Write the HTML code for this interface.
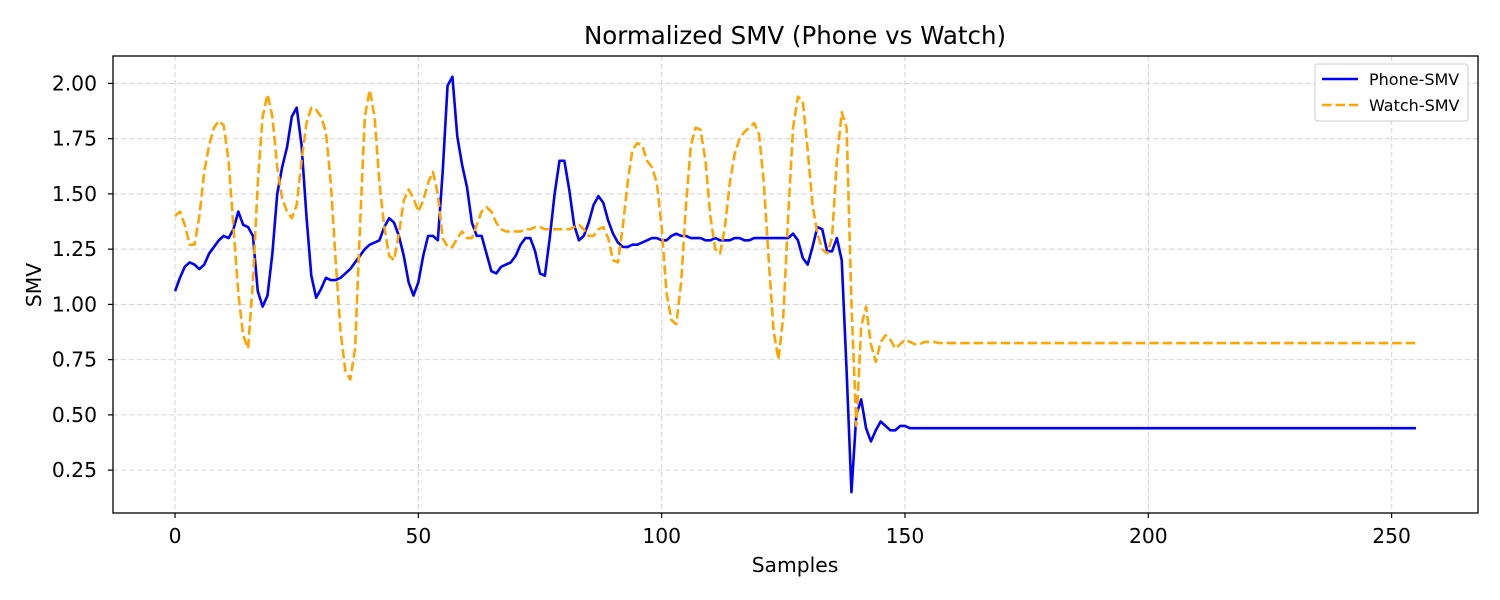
<!DOCTYPE html>
<html><head><meta charset="utf-8"><style>
html,body{margin:0;padding:0;background:#fff;}
svg{display:block;font-family:"DejaVu Sans","Liberation Sans",sans-serif;}
</style></head><body>
<svg id="chart" width="1500" height="600" viewBox="0 0 1500 600">
<rect x="0" y="0" width="1500" height="600" fill="#fff"/>
<text x="795" y="44" text-anchor="middle" font-size="24.5" fill="#000">Normalized SMV (Phone vs Watch)</text>
<g id="grid"></g>
<g id="lines"></g>
<rect x="113" y="56" width="1365" height="457" fill="none" stroke="#000" stroke-width="1.3"/>
<g id="xt"></g><g id="yt"></g>
<text x="795" y="572" text-anchor="middle" font-size="20.3">Samples</text>
<text transform="translate(41,285) rotate(-90)" text-anchor="middle" font-size="20.3">SMV</text>
<g>
<rect x="1315" y="64" width="153" height="57" rx="3" fill="#fff" stroke="#ccc" stroke-width="1"/>
<g>
<line x1="1322" y1="79" x2="1358" y2="79" stroke="#0000ff" stroke-width="2.6"/>
<text x="1369" y="85" font-size="16">Phone-SMV</text></g>
<g>
<line x1="1322" y1="105" x2="1358" y2="105" stroke="#ffa500" stroke-width="2.6" stroke-dasharray="9.5,4"/>
<text x="1369" y="111" font-size="16">Watch-SMV</text></g>
</g>
</svg>
<script>
const xTicks=[0,50,100,150,200,250];
const yTicks=[0.25,0.50,0.75,1.00,1.25,1.50,1.75,2.00];
const phone=[
1.06,1.12,1.17,1.19,1.18,1.16,1.18,1.23,1.26,1.29,
1.31,1.30,1.34,1.42,1.36,1.35,1.31,1.06,0.99,1.04,
1.23,1.50,1.62,1.71,1.85,1.89,1.72,1.40,1.13,1.03,
1.07,1.12,1.11,1.11,1.12,1.14,1.16,1.19,1.22,1.25,
1.27,1.28,1.29,1.35,1.39,1.37,1.31,1.22,1.10,1.04,
1.10,1.22,1.31,1.31,1.29,1.60,1.99,2.03,1.76,1.63,
1.53,1.37,1.31,1.31,1.23,1.15,1.14,1.17,1.18,1.19,
1.22,1.27,1.30,1.30,1.24,1.14,1.13,1.30,1.50,1.65,
1.65,1.52,1.36,1.29,1.31,1.37,1.45,1.49,1.46,1.38,
1.32,1.28,1.26,1.26,1.27,1.27,1.28,1.29,1.30,1.30,
1.29,1.29,1.31,1.32,1.31,1.31,1.30,1.30,1.30,1.29,
1.29,1.30,1.29,1.29,1.29,1.30,1.30,1.29,1.29,1.30,
1.30,1.30,1.30,1.30,1.30,1.30,1.30,1.32,1.29,1.21,
1.18,1.26,1.35,1.34,1.24,1.24,1.30,1.20,0.70,0.15,
0.50,0.57,0.44,0.38,0.43,0.47,0.45,0.43,0.43,0.45,
0.45,0.44,0.44,0.44,0.44,0.44,0.44,0.44,0.44,0.44,
0.44,0.44,0.44,0.44,0.44,0.44,0.44,0.44,0.44,0.44,
0.44,0.44,0.44,0.44,0.44,0.44,0.44,0.44,0.44,0.44,
0.44,0.44,0.44,0.44,0.44,0.44,0.44,0.44,0.44,0.44,
0.44,0.44,0.44,0.44,0.44,0.44,0.44,0.44,0.44,0.44,
0.44,0.44,0.44,0.44,0.44,0.44,0.44,0.44,0.44,0.44,
0.44,0.44,0.44,0.44,0.44,0.44,0.44,0.44,0.44,0.44,
0.44,0.44,0.44,0.44,0.44,0.44,0.44,0.44,0.44,0.44,
0.44,0.44,0.44,0.44,0.44,0.44,0.44,0.44,0.44,0.44,
0.44,0.44,0.44,0.44,0.44,0.44,0.44,0.44,0.44,0.44,
0.44,0.44,0.44,0.44,0.44,0.44];
const watch=[
1.40,1.42,1.36,1.27,1.27,1.40,1.60,1.72,1.80,1.83,
1.81,1.65,1.35,1.05,0.86,0.80,1.10,1.55,1.85,1.95,
1.85,1.62,1.48,1.42,1.39,1.45,1.65,1.82,1.89,1.88,
1.85,1.78,1.55,1.20,0.88,0.70,0.66,0.80,1.35,1.85,
1.97,1.85,1.55,1.35,1.22,1.20,1.32,1.47,1.52,1.48,
1.42,1.47,1.55,1.60,1.50,1.30,1.26,1.26,1.30,1.33,
1.30,1.30,1.36,1.42,1.44,1.42,1.37,1.34,1.33,1.33,
1.33,1.33,1.34,1.34,1.35,1.35,1.34,1.34,1.34,1.34,
1.34,1.34,1.35,1.36,1.34,1.31,1.31,1.34,1.35,1.30,
1.20,1.19,1.35,1.55,1.70,1.73,1.72,1.65,1.62,1.55,
1.35,1.05,0.93,0.91,1.10,1.45,1.72,1.80,1.79,1.65,
1.40,1.25,1.23,1.35,1.55,1.68,1.75,1.78,1.80,1.82,
1.77,1.55,1.20,0.88,0.75,0.95,1.40,1.80,1.94,1.92,
1.70,1.45,1.32,1.25,1.23,1.30,1.65,1.87,1.80,1.00,
0.45,0.90,0.99,0.82,0.74,0.83,0.86,0.84,0.80,0.82,
0.84,0.83,0.82,0.82,0.83,0.83,0.83,0.825,0.825,0.825,
0.825,0.825,0.825,0.825,0.825,0.825,0.825,0.825,0.825,0.825,
0.825,0.825,0.825,0.825,0.825,0.825,0.825,0.825,0.825,0.825,
0.825,0.825,0.825,0.825,0.825,0.825,0.825,0.825,0.825,0.825,
0.825,0.825,0.825,0.825,0.825,0.825,0.825,0.825,0.825,0.825,
0.825,0.825,0.825,0.825,0.825,0.825,0.825,0.825,0.825,0.825,
0.825,0.825,0.825,0.825,0.825,0.825,0.825,0.825,0.825,0.825,
0.825,0.825,0.825,0.825,0.825,0.825,0.825,0.825,0.825,0.825,
0.825,0.825,0.825,0.825,0.825,0.825,0.825,0.825,0.825,0.825,
0.825,0.825,0.825,0.825,0.825,0.825,0.825,0.825,0.825,0.825,
0.825,0.825,0.825,0.825,0.825,0.825];

const NS='http://www.w3.org/2000/svg';
const L=113,R=1478,T=56,B=513;
const n=Math.max(phone.length,watch.length);
const xmin=-0.05*(n-1),xmax=(n-1)*1.05;
const allv=phone.concat(watch);
const vmin=Math.min(...allv),vmax=Math.max(...allv);
const ymin=vmin-(vmax-vmin)*0.05,ymax=vmax+(vmax-vmin)*0.05;
function sx(i){return L+(i-xmin)/(xmax-xmin)*(R-L);}
function sy(v){return B-(v-ymin)/(ymax-ymin)*(B-T);}
function mk(tag,attrs,parent){const e=document.createElementNS(NS,tag);for(const k in attrs)e.setAttribute(k,attrs[k]);parent.appendChild(e);return e;}
const grid=document.getElementById('grid'),xt=document.getElementById('xt'),yt=document.getElementById('yt'),lines=document.getElementById('lines');
xTicks.forEach(t=>{const x=sx(t);
 const g=mk('line',{x1:x,x2:x,y1:T,y2:B,stroke:'#b0b0b0','stroke-opacity':0.5,'stroke-width':1.1,'stroke-dasharray':'5,3'},grid);
 
 
 const tk=mk('line',{x1:x,x2:x,y1:B,y2:B+5,stroke:'#000','stroke-width':1.2},xt);
 
 
 const tx=mk('text',{x:x,y:B+30,'text-anchor':'middle','font-size':20.3},xt);tx.textContent=t;
 
 
});
yTicks.forEach(t=>{const y=sy(t);
 const g=mk('line',{x1:L,x2:R,y1:y,y2:y,stroke:'#b0b0b0','stroke-opacity':0.5,'stroke-width':1.1,'stroke-dasharray':'5,3'},grid);
 
 
 const tk=mk('line',{x1:L-5,x2:L,y1:y,y2:y,stroke:'#000','stroke-width':1.2},yt);
 
 
 const tx=mk('text',{x:L-16,y:y+7,'text-anchor':'end','font-size':20.3},yt);tx.textContent=t.toFixed(2);
 
 
});
function path(arr){return arr.map((v,i)=>(i?'L':'M')+sx(i).toFixed(2)+','+sy(v).toFixed(2)).join('');}
const pp=mk('path',{d:path(phone),fill:'none',stroke:'#0000ff','stroke-width':2.6,'stroke-linejoin':'round'},lines);


const wp=mk('path',{d:path(watch),fill:'none',stroke:'#ffa500','stroke-width':2.6,'stroke-dasharray':'9.5,4','stroke-linejoin':'round'},lines);


</script>
</body></html>
